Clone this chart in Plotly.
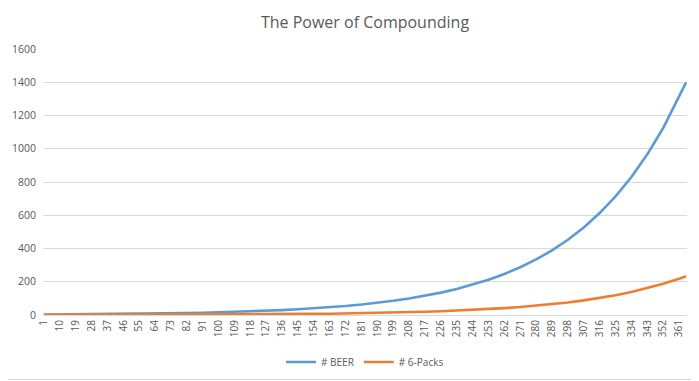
import plotly.graph_objects as go

# Day numbers at which values were read (every 9th category label, plus the final day)
days = [1, 10, 19, 28, 37, 46, 55, 64, 73, 82, 91, 100, 109, 118, 127, 136, 145, 154,
        163, 172, 181, 190, 199, 208, 217, 226, 235, 244, 253, 262, 271, 280, 289, 298,
        307, 316, 325, 334, 343, 352, 361, 365]

beer = [3.03, 3.53, 4.11, 4.79, 5.57, 6.48, 7.54, 8.78, 10.22, 11.89, 13.84, 16.10,
        18.74, 21.81, 25.38, 29.54, 34.38, 40.01, 46.56, 54.18, 63.05, 73.37, 85.39,
        99.37, 115.64, 134.57, 156.61, 182.25, 212.09, 246.82, 287.24, 334.27, 389.01,
        452.71, 526.84, 613.11, 713.51, 830.35, 966.32, 1124.55, 1308.7, 1400.0]

six_packs = [0.505, 0.588, 0.685, 0.798, 0.928, 1.08, 1.257, 1.463, 1.703, 1.982, 2.307,
             2.683, 3.123, 3.635, 4.23, 4.923, 5.73, 6.668, 7.76, 9.03, 10.508, 12.228,
             14.232, 16.562, 19.273, 22.428, 26.102, 30.375, 35.348, 41.137, 47.873,
             55.712, 64.835, 75.452, 87.807, 102.185, 118.918, 138.392, 161.053,
             187.425, 218.117, 233.333]

tick_days = [1, 10, 19, 28, 37, 46, 55, 64, 73, 82, 91, 100, 109, 118, 127, 136, 145,
             154, 163, 172, 181, 190, 199, 208, 217, 226, 235, 244, 253, 262, 271, 280,
             289, 298, 307, 316, 325, 334, 343, 352, 361]
tick_labels = [str(d) for d in tick_days]

y_ticks = [0, 200, 400, 600, 800, 1000, 1200, 1400, 1600]

font_family = "Open Sans, Liberation Sans, sans-serif"
text_color = "#595959"

fig = go.Figure()
fig.add_trace(go.Scatter(x=days, y=beer, mode="lines", name="# BEER",
                         line=dict(color="#5B9BD5", width=2.6)))
fig.add_trace(go.Scatter(x=days, y=six_packs, mode="lines", name="# 6-Packs",
                         line=dict(color="#ED7D31", width=2.6)))

# The page body has an 8px default margin, so the figure is drawn 8px smaller
OFF = 8
W, H = 699 - OFF, 381 - OFF
L, R, T, B = 43 - OFF, 12, 49 - OFF, 66
pw, ph = W - L - R, H - T - B

fig.update_layout(
    width=W, height=H,
    margin=dict(l=L, r=R, t=T, b=B, autoexpand=False),
    paper_bgcolor="white", plot_bgcolor="white",
    title=dict(text="The Power of Compounding", x=0.5, xanchor="center",
               xref="paper", yref="container",
               y=1 - (22 - OFF) / H, yanchor="middle",
               font=dict(family=font_family, size=16, color=text_color)),
    font=dict(family=font_family, color=text_color, size=11),
    showlegend=True,
    legend=dict(orientation="h", x=0.5, xanchor="center",
                y=-((362 - OFF) - (T + ph)) / ph,
                yanchor="middle", font=dict(size=10, color=text_color),
                itemwidth=30),
    xaxis=dict(range=[0.5, 365.5], tickmode="array", tickvals=tick_days,
               ticktext=tick_labels, tickangle=-90, showgrid=False, zeroline=False,
               showline=True, linecolor="#D9D9D9", linewidth=1, automargin=False,
               tickfont=dict(size=10, color=text_color), ticks=""),
    yaxis=dict(range=[0, 1600], tickmode="array", tickvals=y_ticks, showgrid=True,
               gridcolor="#D9D9D9", gridwidth=1, zeroline=False, showline=False,
               automargin=False,
               tickfont=dict(size=10.5, color=text_color), ticks="", ticklabelstandoff=6),
    shapes=[dict(type="rect", xref="paper", yref="paper",
                 x0=-(L + OFF) / pw, x1=1 + (R - 1.5) / pw,
                 y0=-(B - 1.5) / ph, y1=1 + (T + OFF) / ph,
                 line=dict(color="#D9D9D9", width=1), fillcolor="rgba(0,0,0,0)",
                 layer="below")],
)

fig.write_html("out.html")
